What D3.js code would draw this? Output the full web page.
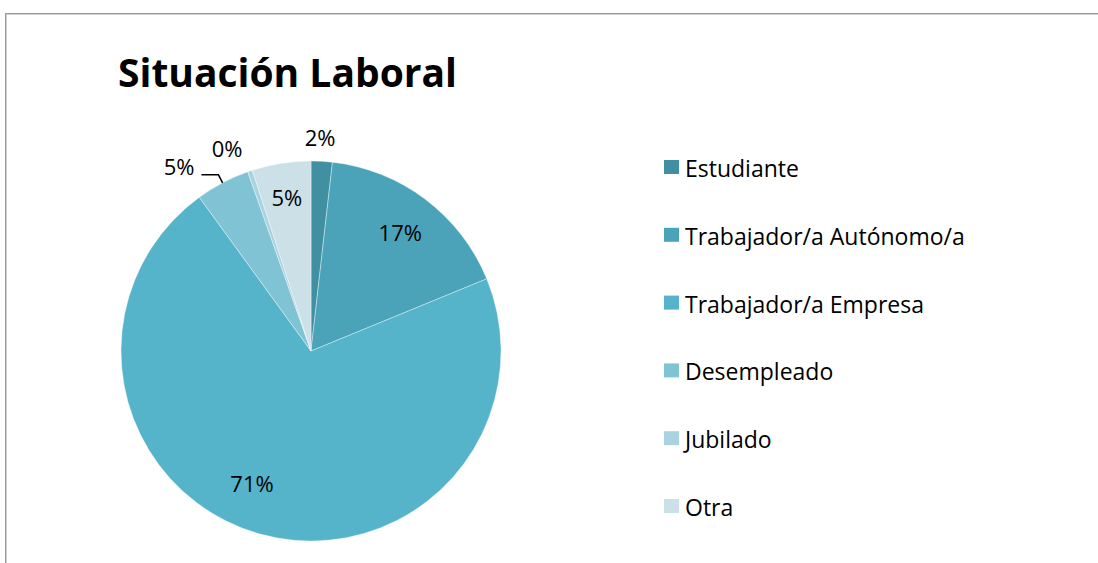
<!DOCTYPE html>
<html>
<head>
<meta charset="utf-8">
<script src="https://cdn.jsdelivr.net/npm/d3@7"></script>
<style>
  body { margin: 0; background: #fff; }
  text { font-family: "Open Sans", Lato, sans-serif; fill: #000; }
</style>
</head>
<body>
<div class="chart"></div>
<script>
// Data (percent of answers)
var categories = ["Estudiante", "Trabajador/a Autónomo/a", "Trabajador/a Empresa", "Desempleado", "Jubilado", "Otra"];
var values = [1.8, 17.0, 71.2, 4.6, 0.4, 5.0];
var colors = ["#4190a2", "#4ba3b9", "#55b3ca", "#80c3d5", "#a9d3df", "#cce0e8"];

var svgWidth = 1098;
var svgHeight = 563;

var cx = 311, cy = 351, radius = 190;

var svg = d3.select(".chart")
    .append("svg")
    .attr("width", svgWidth)
    .attr("height", svgHeight);

// chart frame, cut off at right and bottom like the screenshot
svg.append("rect")
    .attr("x", 5.5).attr("y", 13.5)
    .attr("width", 1200).attr("height", 700)
    .style("fill", "none")
    .style("stroke", "#9a9a9a");
svg.append("rect")
    .attr("x", 6.5).attr("y", 14.5)
    .attr("width", 1200).attr("height", 700)
    .style("fill", "none")
    .style("stroke", "#cfcfcf");

// title
svg.append("text")
    .attr("x", 118)
    .attr("y", 87)
    .style("font-size", "39px")
    .style("font-weight", "bold")
    .text("Situación Laboral");

var pie = d3.pie().sort(null).value(function(d) { return d; });
var arcs = pie(values);

var arc = d3.arc().innerRadius(0).outerRadius(radius);

var chart = svg.append("g")
    .attr("transform", "translate(" + cx + "," + cy + ")");

chart.selectAll(".slice")
    .data(arcs)
    .enter()
    .append("path")
    .attr("class", "slice")
    .attr("d", arc)
    .style("fill", function(d, i) { return colors[i]; })
    .style("stroke", "#ffffff")
    .style("stroke-opacity", 0.5)
    .style("stroke-width", 0.75);

// label layout: inside or outside, plus nudges where Excel moved crowded labels
var labelRadius = [213, 148, 146, 226, 219, 155];
var labelShift = [-0.8, 0, 8, -8, -3.8, 0]; // degrees

function labelPos(d, i) {
    var a = (d.startAngle + d.endAngle) / 2 + labelShift[i] * Math.PI / 180;
    var r = labelRadius[i];
    return [Math.sin(a) * r, -Math.cos(a) * r];
}

var labels = chart.selectAll(".lbl")
    .data(arcs)
    .enter()
    .append("text")
    .attr("class", "lbl")
    .attr("x", function(d, i) { return labelPos(d, i)[0]; })
    .attr("y", function(d, i) { return labelPos(d, i)[1]; })
    .attr("dy", "0.36em")
    .attr("text-anchor", "middle")
    .style("font-size", "22px")
    .text(function(d) { return Math.round(d.value) + "%"; });

// leader line for the Desempleado label (index 3)
var dd = arcs[3];
var mid = (dd.startAngle + dd.endAngle) / 2;
var p0 = [Math.sin(mid) * radius, -Math.cos(mid) * radius];
var p1 = [Math.sin(mid) * (radius + 9), -Math.cos(mid) * (radius + 9)];
var lp = labelPos(dd, 3);
var lblW = labels.filter(function(d, i) { return i === 3; }).node().getComputedTextLength();
var p2 = [lp[0] + lblW / 2 + 7, p1[1]];

chart.append("path")
    .attr("d", d3.line()([p0, p1, p2]))
    .style("fill", "none")
    .style("stroke", "#000")
    .style("stroke-width", 1.5);

// legend
var legendY = d3.scaleLinear().domain([0, categories.length - 1]).range([167, 506]);

var legend = svg.selectAll(".legend")
    .data(categories)
    .enter()
    .append("g")
    .attr("class", "legend")
    .attr("transform", function(d, i) { return "translate(664," + legendY(i) + ")"; });

legend.append("rect")
    .attr("x", 0).attr("y", -7)
    .attr("width", 15).attr("height", 14)
    .style("fill", function(d, i) { return colors[i]; });

legend.append("text")
    .attr("x", 21)
    .attr("y", 10)
    .style("font-size", "23px")
    .text(function(d) { return d; });
</script>
</body>
</html>
